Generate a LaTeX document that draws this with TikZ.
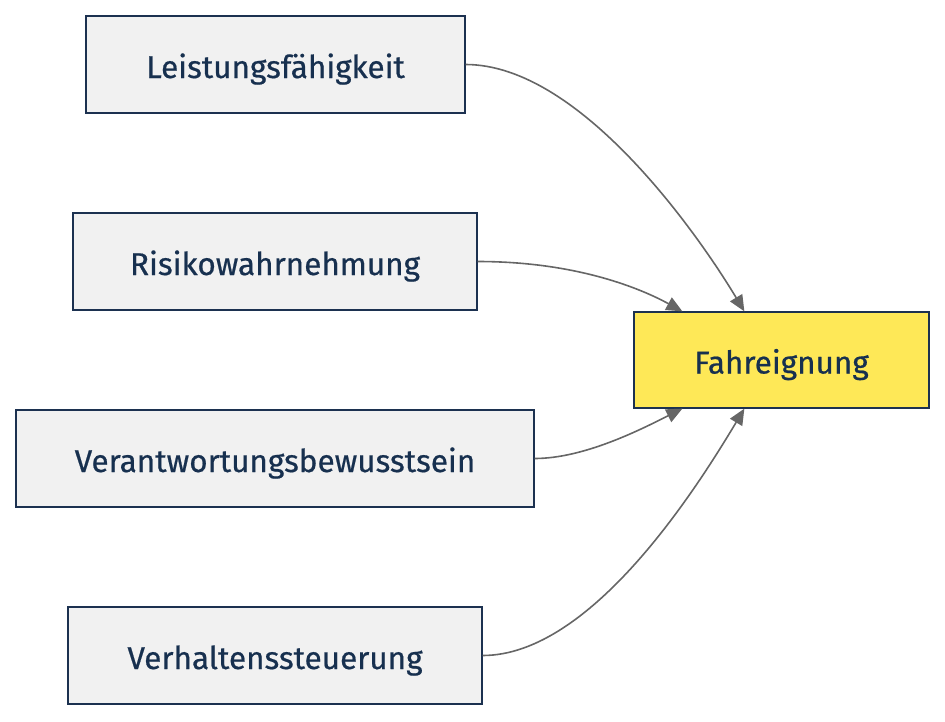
\documentclass[tikz,border=0pt]{standalone}
\usepackage{fontspec}
\setmainfont{Fira Sans}
\newfontfamily\boxfont{Fira Sans}[FakeBold=0.6]
\usetikzlibrary{arrows.meta,calc}
\definecolor{boxfill}{HTML}{F1F1F1}
\definecolor{boxline}{HTML}{1C3150}
\definecolor{txt}{HTML}{17304F}
\definecolor{yel}{HTML}{FEE857}
\definecolor{edge}{HTML}{666666}
\begin{document}
\begin{tikzpicture}[x=1pt,y=-1pt,
  box/.style={draw=boxline,line width=1.3pt,fill=boxfill,minimum height=97pt,inner sep=0pt,text=txt,font=\boxfont\fontsize{31.5}{34}\selectfont,text height=31pt,text depth=4pt},
  target/.style={box,fill=yel},
  conn/.style={draw=edge,line width=1.6pt,-{Triangle[length=16pt,width=14pt]}}]
\useasboundingbox (0,0) rectangle (945,721);
\node[box,minimum width=379pt] (L) at (275.5,64.5) {Leistungsfähigkeit};
\node[box,minimum width=404pt] (R) at (275,261.5) {Risikowahrnehmung};
\node[box,minimum width=518pt] (V) at (275,458.5) {Verantwortungsbewusstsein};
\node[box,minimum width=414pt] (S) at (275,655.5) {Verhaltenssteuerung};
\node[target,minimum width=295pt,minimum height=96pt] (F) at (781.5,360) {Fahreignung};
\coordinate (Ft1) at ($(F.north west)+(111,0)$);
\coordinate (Ft2) at ($(F.north west)+(49,0)$);
\coordinate (Fb2) at ($(F.south west)+(49,0)$);
\coordinate (Fb1) at ($(F.south west)+(111,0)$);
\draw[conn] (L.east) .. controls +(115,0) and ($(Ft1)+(-45,-75)$) .. (Ft1);
\draw[conn] (R.east) .. controls +(100,0) and ($(Ft2)+(-40,-22)$) .. (Ft2);
\draw[conn] (V.east) .. controls +(50,0) and ($(Fb2)+(-40,20)$) .. (Fb2);
\draw[conn] (S.east) .. controls +(110,0) and ($(Fb1)+(-45,75)$) .. (Fb1);
\end{tikzpicture}
\end{document}
